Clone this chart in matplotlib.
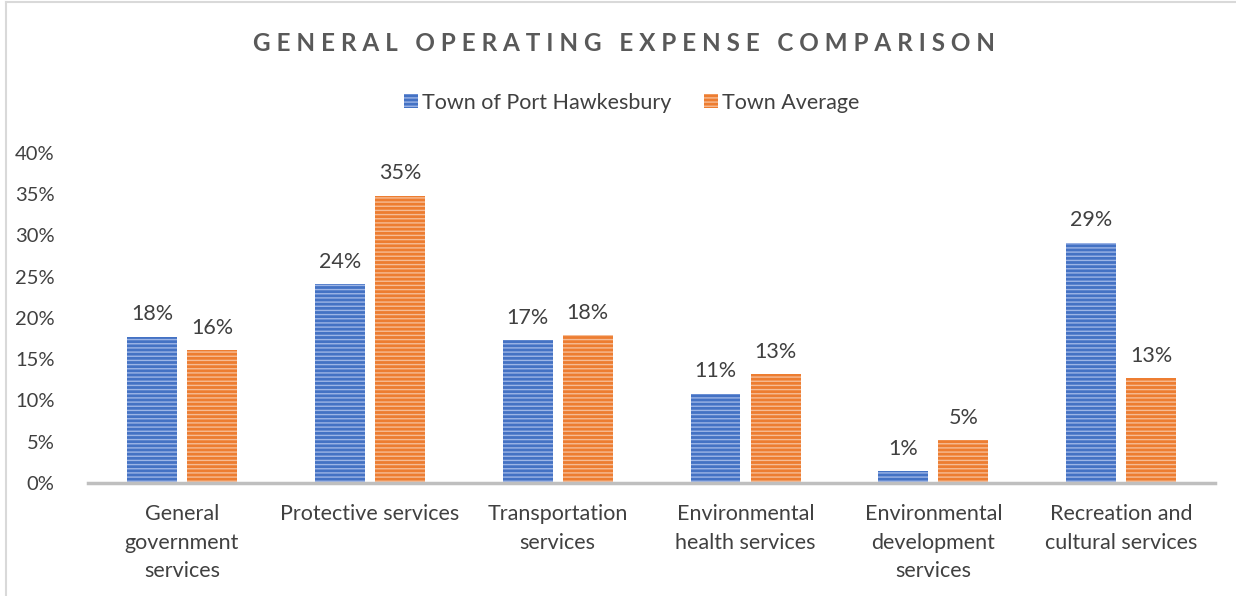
import matplotlib.pyplot as plt
import numpy as np
from matplotlib.ticker import PercentFormatter

# categories and series (fractions of total)
categories = ["General\ngovernment\nservices", "Protective services", "Transportation\nservices",
              "Environmental\nhealth services", "Environmental\ndevelopment\nservices",
              "Recreation and\ncultural services"]
port_hawkesbury = [0.177, 0.241, 0.173, 0.108, 0.014, 0.291]
town_average = [0.161, 0.348, 0.179, 0.132, 0.052, 0.127]
port_labels = ["18%", "24%", "17%", "11%", "1%", "29%"]
avg_labels = ["16%", "35%", "18%", "13%", "5%", "13%"]

plt.rcParams['font.family'] = ['Lato', 'DejaVu Sans']
plt.rcParams['hatch.linewidth'] = 1.0

fig = plt.figure(figsize=(12.36, 5.96), dpi=100)
ax = fig.add_axes([0.0712, 0.1896, 0.912, 0.5537])

x = np.arange(len(categories))
w = 0.266
off = 0.16
blue = "#4472C4"
orange = "#ED7D31"
b1 = ax.bar(x - off, port_hawkesbury, w, color=blue, edgecolor="#9DB5E6", lw=0, hatch="----",
            label="Town of Port Hawkesbury")
b2 = ax.bar(x + off, town_average, w, color=orange, edgecolor="#F6BC95", lw=0, hatch="----",
            label="Town Average")
ax.bar_label(b1, labels=port_labels, padding=9, fontsize=15.5, color="#404040")
ax.bar_label(b2, labels=avg_labels, padding=9, fontsize=15.5, color="#404040")

ax.set_xlim(-0.5, len(categories) - 0.5)
ax.set_ylim(0, 0.40)
ax.set_yticks(np.arange(0, 0.41, 0.05))
ax.yaxis.set_major_formatter(PercentFormatter(1.0, decimals=0))
ax.set_xticks(x)
ax.set_xticklabels(categories, fontsize=15.5, color="#404040", linespacing=1.55)
ax.tick_params(axis='y', labelsize=14.5, labelcolor="#404040", length=0, pad=24)
ax.tick_params(axis='x', length=0, pad=15)
for s in ["top", "right", "left"]:
    ax.spines[s].set_visible(False)
ax.spines["bottom"].set_color("#BFBFBF")
ax.spines["bottom"].set_linewidth(2.5)

fig.text(0.505, 0.927, "G E N E R A L   O P E R A T I N G   E X P E N S E   C O M P A R I S O N",
         ha="center", va="center", fontsize=17.5, fontweight="bold", color="#595959")
fig.legend(loc="center", bbox_to_anchor=(0.511, 0.828), ncol=2, frameon=False, fontsize=15.5,
           handlelength=0.65, handleheight=0.65, handletextpad=0.2, columnspacing=1.5,
           labelcolor="#404040")

# faint outer border (only top and left are visible in the crop)
fig.add_artist(plt.Line2D([0.005, 0.005], [0, 0.997], color="#D9D9D9", lw=1.5))
fig.add_artist(plt.Line2D([0.005, 1], [0.997, 0.997], color="#D9D9D9", lw=1.5))

fig.savefig("out.png", dpi=100)
